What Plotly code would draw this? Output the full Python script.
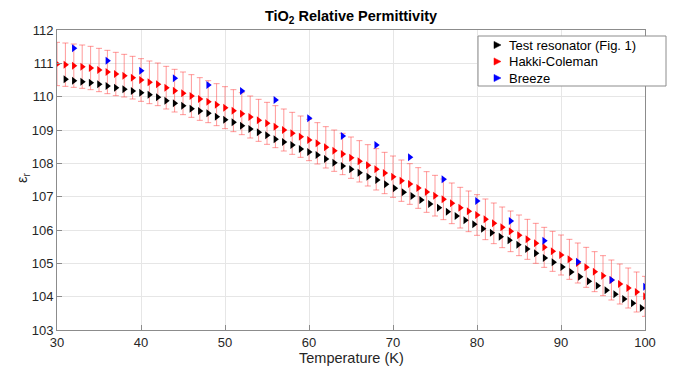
import plotly.graph_objects as go

# ---- data ----
hakki_T = [30, 31, 32, 33, 34, 35, 36, 37, 38, 39, 40, 41, 42, 43, 44, 45, 46, 47, 48, 49,
           50, 51, 52, 53, 54, 55, 56, 57, 58, 59, 60, 61, 62, 63, 64, 65, 66, 67, 68, 69,
           70, 71, 72, 73, 74, 75, 76, 77, 78, 79, 80, 81, 82, 83, 84, 85, 86, 87, 88, 89,
           90, 91, 92, 93, 94, 95, 96, 97, 98, 99, 100]
hakki_eps = [110.98, 110.96, 110.93, 110.90, 110.86, 110.80, 110.74, 110.68, 110.63, 110.57,
             110.50, 110.43, 110.37, 110.27, 110.18, 110.10, 110.02, 109.93, 109.85, 109.76,
             109.67, 109.58, 109.49, 109.39, 109.29, 109.20, 109.10, 109.00, 108.90, 108.80,
             108.70, 108.60, 108.48, 108.38, 108.28, 108.17, 108.06, 107.94, 107.82, 107.71,
             107.60, 107.48, 107.38, 107.26, 107.14, 107.03, 106.92, 106.80, 106.67, 106.56,
             106.45, 106.32, 106.20, 106.08, 105.96, 105.84, 105.72, 105.60, 105.48, 105.36,
             105.25, 105.12, 105.01, 104.88, 104.75, 104.63, 104.50, 104.38, 104.26, 104.14,
             104.01]
hakki_err = [0.65, 0.65, 0.65, 0.65, 0.65, 0.65, 0.65, 0.65, 0.64, 0.64,
             0.64, 0.64, 0.64, 0.64, 0.64, 0.64, 0.64, 0.64, 0.63, 0.63,
             0.63, 0.63, 0.63, 0.63, 0.63, 0.63, 0.63, 0.63, 0.63, 0.62,
             0.62, 0.62, 0.62, 0.62, 0.62, 0.62, 0.62, 0.62, 0.62, 0.62,
             0.62, 0.62, 0.61, 0.61, 0.61, 0.61, 0.61, 0.61, 0.61, 0.61,
             0.61, 0.61, 0.61, 0.61, 0.61, 0.61, 0.60, 0.60, 0.60, 0.60,
             0.60, 0.60, 0.60, 0.60, 0.60, 0.60, 0.60, 0.60, 0.60, 0.60,
             0.60]

test_T = [31, 32, 33, 34, 35, 36, 37, 38, 39, 40, 41, 42, 43, 44, 45, 46, 47, 48, 49, 50,
          51, 52, 53, 54, 55, 56, 57, 58, 59, 60, 61, 62, 63, 64, 65, 66,
          67.05, 68.1, 69.15, 70.2, 71.25, 72.3, 73.35, 74.4, 75.45, 76.5, 77.55,
          78.6, 79.65, 80.7, 81.75, 82.8, 83.85, 84.9, 85.95, 87.0, 88.05, 89.1,
          90.15, 91.2, 92.25, 93.3, 94.35, 95.4, 96.45, 97.5, 98.55, 99.6]
test_eps = [110.52, 110.48, 110.45, 110.42, 110.37, 110.32, 110.27, 110.22, 110.17, 110.12,
            110.06, 109.98, 109.88, 109.80, 109.73, 109.64, 109.57, 109.50, 109.40, 109.31,
            109.23, 109.13, 109.03, 108.93, 108.84, 108.72, 108.64, 108.55, 108.43, 108.34,
            108.25, 108.13, 108.02, 107.92, 107.82, 107.72,
            107.60, 107.50, 107.37, 107.25, 107.13, 107.02, 106.90, 106.78, 106.67, 106.55,
            106.42, 106.29, 106.17, 106.04, 105.92, 105.80, 105.69, 105.56, 105.43, 105.30,
            105.16, 105.03, 104.89, 104.74, 104.60, 104.46, 104.33, 104.19, 104.07, 103.93,
            103.80, 103.66]

breeze_T = [32, 36, 40, 44, 48, 52, 56, 60, 64, 68, 72, 76, 80, 84, 88, 92, 96, 100]
breeze_eps = [111.45, 111.08, 110.78, 110.55, 110.35, 110.17, 109.90, 109.35, 108.82,
              108.55, 108.18, 107.52, 106.87, 106.27, 105.68, 105.05, 104.50, 104.30]

series_names = ["Test resonator (Fig. 1)", "Hakki-Coleman", "Breeze"]
series_colors = ["#000000", "#ff0000", "#0000ff"]

x_ticks = [30, 40, 50, 60, 70, 80, 90, 100]
y_ticks = [103, 104, 105, 106, 107, 108, 109, 110, 111, 112]

FONT = "Liberation Sans, Arial, Helvetica, sans-serif"
TXT = "#262626"
MS = 7

# plot area in pixels
L, R, T, B = 57, 645, 30, 330
W, H = 681, 371


def px_x(p):
    return (p - L) / (R - L)


def px_y(p):
    return (B - p) / (B - T)


fig = go.Figure()
fig.add_trace(go.Scatter(
    x=hakki_T, y=hakki_eps, mode="markers", name=series_names[1], showlegend=False,
    marker=dict(symbol="triangle-right", size=MS, color=series_colors[1]),
    error_y=dict(type="data", array=hakki_err, visible=True,
                 color="rgba(255,70,70,0.55)", thickness=1, width=3),
))
fig.add_trace(go.Scatter(
    x=test_T, y=test_eps, mode="markers", name=series_names[0], showlegend=False,
    marker=dict(symbol="triangle-right", size=MS, color=series_colors[0]),
))
fig.add_trace(go.Scatter(
    x=breeze_T, y=breeze_eps, mode="markers", name=series_names[2], showlegend=False,
    marker=dict(symbol="triangle-right", size=MS, color=series_colors[2]),
))

axis_common = dict(
    showgrid=True, gridcolor="#e6e6e6", gridwidth=1,
    showline=True, linecolor="#8c8c8c", linewidth=1, mirror=True,
    ticks="inside", ticklen=5, tickcolor="#8c8c8c",
    tickfont=dict(family=FONT, size=13, color=TXT),
    zeroline=False, automargin=False,
)

annotations = [
    dict(text="Temperature (K)", x=0.5, y=px_y(358), xref="paper", yref="paper",
         showarrow=False, xanchor="center", yanchor="middle",
         font=dict(family=FONT, size=14.5, color=TXT)),
    dict(text="ε<sub>r</sub>", x=px_x(23), y=px_y(178), xref="paper", yref="paper",
         showarrow=False, xanchor="center", yanchor="middle", textangle=-90,
         font=dict(family=FONT, size=14.5, color=TXT)),
]

# manual legend (box, key triangles, labels)
leg_rows = [45, 61.5, 78]
key_x = 497
shapes = [dict(type="rect", xref="paper", yref="paper",
               x0=px_x(478), x1=px_x(666), y0=px_y(86), y1=px_y(36),
               line=dict(color="#8c8c8c", width=1), fillcolor="white", layer="above")]
for name, col, yy in zip(series_names, series_colors, leg_rows):
    path = "M {:.4f},{:.4f} L {:.4f},{:.4f} L {:.4f},{:.4f} Z".format(
        px_x(key_x - 3), px_y(yy - 3.6), px_x(key_x + 4), px_y(yy),
        px_x(key_x - 3), px_y(yy + 3.6))
    shapes.append(dict(type="path", xref="paper", yref="paper", path=path,
                       fillcolor=col, line=dict(color=col, width=0.5), layer="above"))
    annotations.append(dict(text=name, x=px_x(507), y=px_y(yy), xref="paper", yref="paper",
                            showarrow=False, xanchor="left", yanchor="middle",
                            font=dict(family=FONT, size=13, color="#000000")))

fig.update_layout(
    width=W, height=H,
    margin=dict(l=L, r=W - R, t=T, b=H - B),
    paper_bgcolor="white", plot_bgcolor="white",
    font=dict(family=FONT, size=13, color=TXT),
    title=dict(text="<b>TiO<sub>2</sub> Relative Permittivity</b>",
               x=(L + R) / 2 / W, xanchor="center", y=1 - 16 / H, yanchor="middle",
               font=dict(family=FONT, size=14.5, color="#000000")),
    xaxis=dict(range=[30, 100], tickvals=x_ticks, ticktext=[str(v) for v in x_ticks],
               **axis_common),
    yaxis=dict(range=[103, 112], tickvals=y_ticks, ticktext=[str(v) for v in y_ticks],
               **axis_common),
    shapes=shapes,
    annotations=annotations,
    showlegend=False,
)

fig.write_html(
    "out.html",
    config={"displayModeBar": False},
    post_script="document.body.style.margin='0px';document.body.style.padding='0px';",
)
